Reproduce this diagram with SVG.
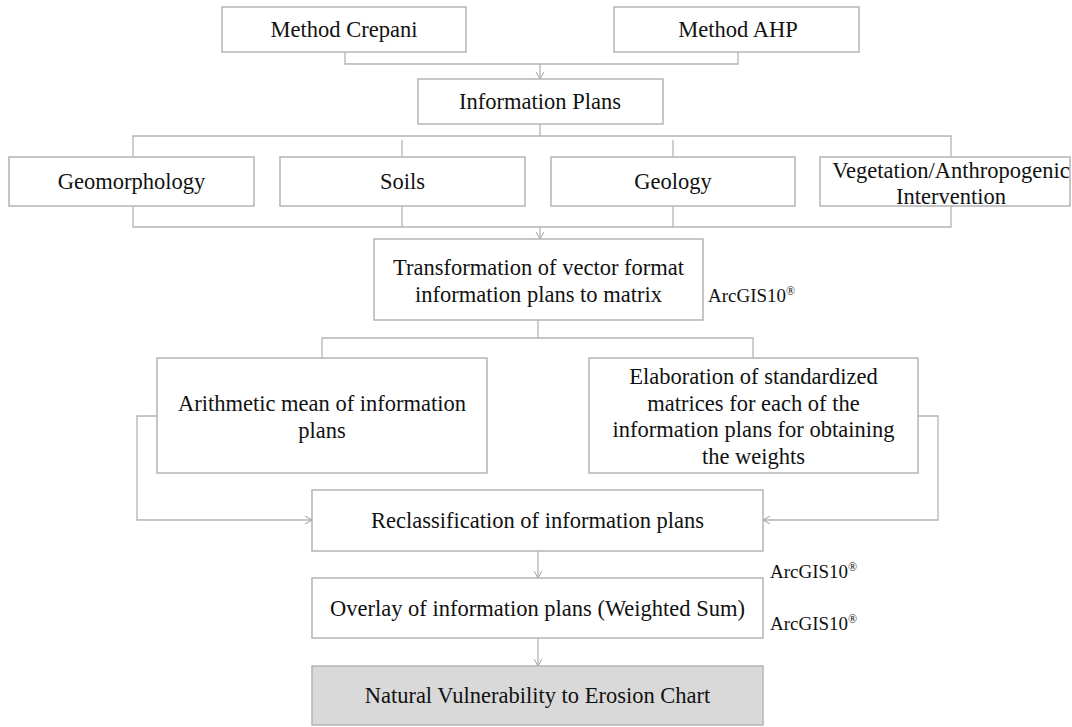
<svg xmlns="http://www.w3.org/2000/svg" width="1072" height="727" viewBox="0 0 1072 727">
<style>
.box{fill:#fff;stroke:#b4b4b4;stroke-width:1.5}
.fill{fill:#d9d9d9}
.t{font-family:"Liberation Serif","Times New Roman",serif;font-size:22.5px;fill:#111;text-anchor:middle}
.a{font-family:"Liberation Serif","Times New Roman",serif;font-size:19px;fill:#111}
.c{fill:none;stroke:#b4b4b4;stroke-width:1.3}
</style>
<defs>
<marker id="ar" markerWidth="10" markerHeight="10" refX="7" refY="4" orient="auto" markerUnits="userSpaceOnUse">
<path d="M0,0 L7,4 L0,8" fill="none" stroke="#a0a0a0" stroke-width="1"/>
</marker>
</defs>
<g id="connectors">
<path class="c" d="M345,52 V64 H738 V52"/>
<path class="c" d="M540,64 V79" marker-end="url(#ar)"/>
<path class="c" d="M540,124 V136"/>
<path class="c" d="M133,157 V136 H951 V157"/>
<path class="c" d="M402,140 V157 M673,140 V157"/>
<path class="c" d="M133,206 V227 H951 V206 M402,206 V227 M673,206 V227"/>
<path class="c" d="M540,227 V239" marker-end="url(#ar)"/>
<path class="c" d="M538,320 V338 M322,358 V338 H753 V358"/>
<path class="c" d="M157,416 H137 V520 H312" marker-end="url(#ar)"/>
<path class="c" d="M918,416 H938 V520 H763" marker-end="url(#ar)"/>
<path class="c" d="M538,551 V578" marker-end="url(#ar)"/>
<path class="c" d="M538,638 V666" marker-end="url(#ar)"/>
</g>
<g id="crepani"><rect class="box" x="222" y="7" width="244" height="45"/><text class="t" x="344" y="37">Method Crepani</text></g>
<g id="ahp"><rect class="box" x="614" y="7" width="245" height="45"/><text class="t" x="738" y="37">Method AHP</text></g>
<g id="infoplans"><rect class="box" x="418" y="79" width="245" height="45"/><text class="t" x="540" y="109">Information Plans</text></g>
<g id="geomorphology"><rect class="box" x="9" y="157" width="245" height="49"/><text class="t" x="131.5" y="189">Geomorphology</text></g>
<g id="soils"><rect class="box" x="280" y="157" width="245" height="49"/><text class="t" x="402.5" y="189">Soils</text></g>
<g id="geology"><rect class="box" x="551" y="157" width="244" height="49"/><text class="t" x="673" y="189">Geology</text></g>
<g id="vegetation"><rect class="box" x="820" y="157" width="250" height="49"/><text class="t" x="951" y="178">Vegetation/Anthropogenic</text><text class="t" x="951" y="204">Intervention</text></g>
<g id="transformation"><rect class="box" x="374" y="239" width="329" height="81"/><text class="t" x="538.5" y="275">Transformation of vector format</text><text class="t" x="538.5" y="302">information plans to matrix</text></g>
<g id="arcgis1"><text class="a" x="708" y="302">ArcGIS10<tspan font-size="12" dy="-7">®</tspan></text></g>
<g id="arithmetic"><rect class="box" x="157" y="358" width="330" height="115"/><text class="t" x="322" y="411">Arithmetic mean of information</text><text class="t" x="322" y="438">plans</text></g>
<g id="elaboration"><rect class="box" x="589" y="358" width="329" height="115"/><text class="t" x="753.5" y="384">Elaboration of standardized</text><text class="t" x="753.5" y="411">matrices for each of the</text><text class="t" x="753.5" y="437">information plans for obtaining</text><text class="t" x="753.5" y="464">the weights</text></g>
<g id="reclassification"><rect class="box" x="312" y="490" width="451" height="61"/><text class="t" x="537.5" y="528">Reclassification of information plans</text></g>
<g id="arcgis2"><text class="a" x="770" y="578">ArcGIS10<tspan font-size="12" dy="-7">®</tspan></text></g>
<g id="overlay"><rect class="box" x="312" y="578" width="451" height="60"/><text class="t" x="537.5" y="616">Overlay of information plans (Weighted Sum)</text></g>
<g id="arcgis3"><text class="a" x="770" y="630">ArcGIS10<tspan font-size="12" dy="-7">®</tspan></text></g>
<g id="natural"><rect class="box fill" x="312" y="666" width="451" height="59"/><text class="t" x="537.5" y="703">Natural Vulnerability to Erosion Chart</text></g>
</svg>
